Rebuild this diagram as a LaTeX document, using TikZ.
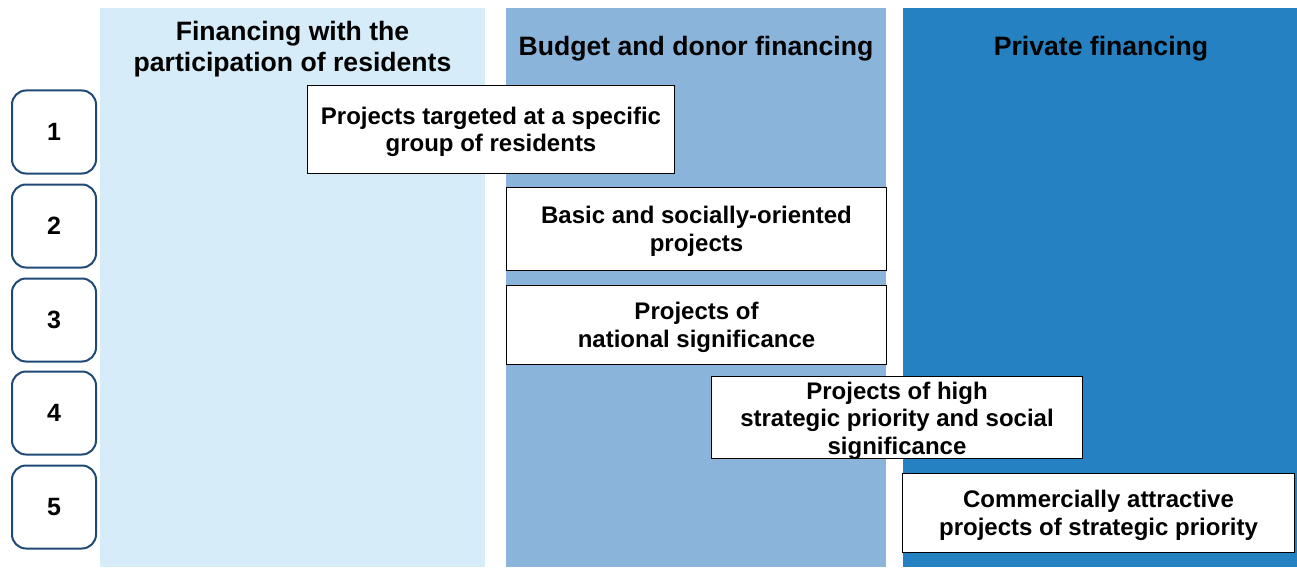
\documentclass[tikz,border=0pt]{standalone}
\usepackage{fontspec}
\setmainfont{Liberation Sans}
\definecolor{colA}{RGB}{214,236,248}
\definecolor{colB}{RGB}{139,180,218}
\definecolor{colC}{RGB}{37,129,194}
\definecolor{navy}{RGB}{31,73,118}
\begin{document}
\begin{tikzpicture}[x=1pt,y=-1pt,
  txt/.style={font=\fontsize{24}{27.5}\selectfont\bfseries, align=center, text=black, inner sep=0pt},
  head/.style={font=\fontsize{26.6}{31}\selectfont\bfseries, align=center, text=black},
  projbox/.style={draw=black, line width=1.2pt, fill=white, inner sep=0pt},
  numbox/.style={draw=navy, line width=2pt, rounded corners=14pt, fill=white,
    minimum width=84pt, minimum height=83pt, inner sep=0pt,
    font=\fontsize{25}{28}\selectfont\bfseries}
]
\useasboundingbox (0,0) rectangle (1297,567);
% columns
\fill[colA] (100,8) rectangle (485,567);
\fill[colB] (506,8) rectangle (886,567);
\fill[colC] (903,8) rectangle (1297,567);
\node[head] (h1) at (292.5,49) {Financing with the\\participation of residents};
\node[head] (h2) at (696,48.5) {Budget and donor financing};
\node[head] (h3) at (1101,48.5) {Private financing};
% number boxes
\node[numbox] (n1) at (54,132) {1};
\node[numbox] (n2) at (54,226) {2};
\node[numbox] (n3) at (54,320) {3};
\node[numbox] (n4) at (54,413) {4};
\node[numbox] (n5) at (54,507) {5};
% project boxes
\node[projbox, minimum width=367pt, minimum height=88pt] (pA) at (491,129.5) {};
\node[projbox, minimum width=380pt, minimum height=83pt] (pB) at (696.5,229) {};
\node[projbox, minimum width=380pt, minimum height=79pt] (pC) at (696.5,325) {};
\node[projbox, minimum width=371pt, minimum height=82pt] (pD) at (897,417.5) {};
\node[projbox, minimum width=392pt, minimum height=79pt] (pE) at (1098.5,513) {};
\node[txt] (tA) at ([yshift=-2.5pt]pA.center) {Projects targeted at a specific\\group of residents};
\node[txt] (tB) at ([yshift=-2.5pt]pB.center) {Basic and socially-oriented\\projects};
\node[txt] (tC) at ([yshift=-2.5pt]pC.center) {Projects of\\national significance};
\node[txt] (tD) at ([yshift=-3pt]pD.center) {Projects of high\\strategic priority and social\\significance};
\node[txt] (tE) at ([yshift=-2.5pt]pE.center) {Commercially attractive\\projects of strategic priority};
\end{tikzpicture}
\end{document}
